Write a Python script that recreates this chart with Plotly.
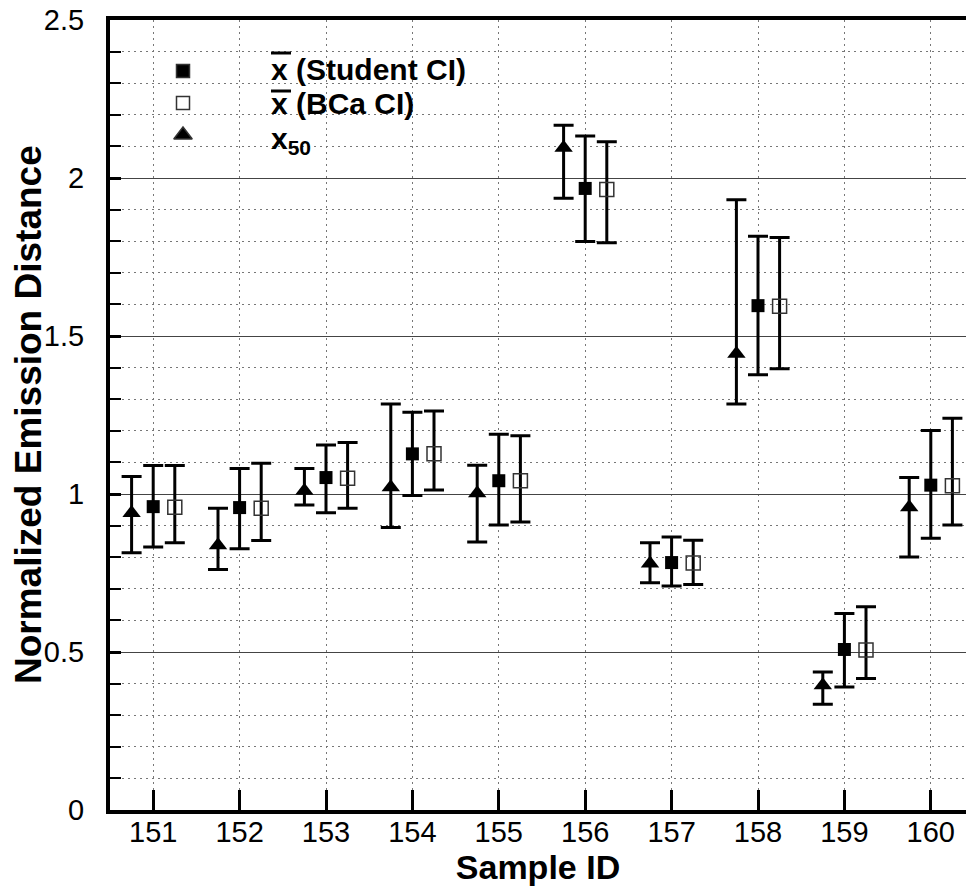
import plotly.graph_objects as go

# ---- data ----
sample_ids = [151, 152, 153, 154, 155, 156, 157, 158, 159, 160]

x50_val = [0.94, 0.838, 1.01, 1.021, 1.002, 2.096, 0.780, 1.444, 0.395, 0.958]
x50_hi = [1.055, 0.955, 1.081, 1.285, 1.091, 2.167, 0.846, 1.931, 0.437, 1.052]
x50_lo = [0.814, 0.761, 0.965, 0.894, 0.848, 1.936, 0.719, 1.285, 0.335, 0.801]

stu_val = [0.960, 0.957, 1.052, 1.127, 1.042, 1.967, 0.783, 1.596, 0.508, 1.028]
stu_hi = [1.090, 1.081, 1.155, 1.259, 1.189, 2.133, 0.864, 1.816, 0.622, 1.201]
stu_lo = [0.832, 0.827, 0.941, 0.995, 0.902, 1.799, 0.709, 1.377, 0.389, 0.860]

bca_val = [0.958, 0.955, 1.050, 1.127, 1.042, 1.964, 0.782, 1.594, 0.506, 1.026]
bca_hi = [1.090, 1.097, 1.163, 1.263, 1.184, 2.115, 0.854, 1.812, 0.643, 1.240]
bca_lo = [0.846, 0.853, 0.955, 1.013, 0.911, 1.795, 0.714, 1.396, 0.416, 0.902]

legend_labels = ["x (Student CI)", "x (BCa CI)", "x<sub>50</sub>"]
legend_bar = [True, True, False]

x_title = "Sample ID"
y_title = "Normalized Emission Distance"

W, H = 966, 889
L, R, T, B = 110, 0, 20, 79
PW, PH = W - L - R, H - T - B


def err(vals, hi, lo):
    return dict(type="data", symmetric=False,
                array=[h - v for h, v in zip(hi, vals)],
                arrayminus=[v - l for v, l in zip(vals, lo)],
                color="black", thickness=3, width=10)


fig = go.Figure()
fig.add_trace(go.Scatter(
    x=[s - 0.25 for s in sample_ids], y=x50_val, mode="markers",
    marker=dict(symbol="triangle-up", size=16, color="black"),
    error_y=err(x50_val, x50_hi, x50_lo), showlegend=False))
fig.add_trace(go.Scatter(
    x=sample_ids, y=stu_val, mode="markers",
    marker=dict(symbol="square", size=13, color="black"),
    error_y=err(stu_val, stu_hi, stu_lo), showlegend=False))
fig.add_trace(go.Scatter(
    x=[s + 0.25 for s in sample_ids], y=bca_val, mode="markers",
    marker=dict(symbol="square-open", size=14, color="#333333",
                line=dict(width=1.5, color="#333333")),
    error_y=err(bca_val, bca_hi, bca_lo), showlegend=False))

# ---- manual legend (overlay axes in plot-area fractions) ----
def fy(px):
    return 1 - (px - T) / PH


leg_x = (183 - L) / PW
leg_y = [fy(71), fy(103), fy(135)]
leg_sym = ["square", "square-open", "triangle-up"]
for yy, sym in zip(leg_y, leg_sym):
    fig.add_trace(go.Scatter(
        x=[leg_x], y=[yy], xaxis="x2", yaxis="y2", mode="markers",
        marker=dict(symbol=sym, size=13 if sym != "triangle-up" else 16,
                    color="black" if sym != "square-open" else "#333333",
                    line=dict(width=1.5, color="#333333")),
        showlegend=False, hoverinfo="skip"))
txt_x = (269 - L) / PW
text_y = [fy(69), fy(103), fy(140)]
bar_y = [fy(53), fy(91), None]
for yy, lab, bar, yb in zip(text_y, legend_labels, legend_bar, bar_y):
    fig.add_annotation(x=txt_x, y=yy, xref="paper", yref="paper",
                       text=lab, showarrow=False, xanchor="left", yanchor="middle",
                       font=dict(family="Liberation Sans, Arial, sans-serif",
                                 size=30, color="black", weight="bold"))
    if bar:
        fig.add_shape(type="line", xref="paper", yref="paper",
                      x0=txt_x + 2 / PW, x1=txt_x + 22 / PW, y0=yb, y1=yb,
                      line=dict(color="black", width=3))

tickfont = dict(family="Liberation Sans, Arial, sans-serif", size=29, color="black")
titlefont = dict(family="Liberation Sans, Arial, sans-serif", color="black", weight="bold")

# y-axis title placed as a rotated annotation
fig.add_annotation(x=(28 - L) / PW, y=0.5, xref="paper", yref="paper",
                   text=y_title, textangle=-90, showarrow=False,
                   xanchor="center", yanchor="middle",
                   font=dict(size=37, **titlefont))

fig.update_layout(
    width=W, height=H,
    margin=dict(l=L, r=R, t=T, b=B, pad=0, autoexpand=False),
    paper_bgcolor="white", plot_bgcolor="white",
    showlegend=False,
    xaxis=dict(
        range=[150.5, 150.5 + PW / 86.4],
        tickmode="array", tickvals=sample_ids, ticktext=[str(s) for s in sample_ids],
        ticks="inside", ticklen=20, tickwidth=3, tickcolor="black",
        showline=True, linewidth=4, linecolor="black", mirror=True,
        showgrid=True, gridcolor="#777777", gridwidth=1, griddash="2px,4px",
        zeroline=False, tickfont=tickfont, ticklabelstandoff=-7,
        title=dict(text=x_title, font=dict(size=34, **titlefont), standoff=0),
        automargin=False,
    ),
    yaxis=dict(
        range=[0, 2.5], tickmode="array", tickvals=[0, 0.5, 1, 1.5, 2, 2.5],
        ticktext=["0", "0.5", "1", "1.5", "2", "2.5"],
        ticks="inside", ticklen=11, tickwidth=3, tickcolor="black",
        showline=True, linewidth=4, linecolor="black",
        showgrid=True, gridcolor="#444444", gridwidth=1.2,
        zeroline=False, tickfont=tickfont, ticklabelstandoff=16,
        minor=dict(dtick=0.1, ticks="inside", ticklen=11, tickwidth=1.5,
                   tickcolor="black", showgrid=True, gridcolor="#777777",
                   gridwidth=1, griddash="2px,4px"),
        automargin=False,
    ),
    xaxis2=dict(overlaying="x", range=[0, 1], visible=False, fixedrange=True),
    yaxis2=dict(overlaying="y", range=[0, 1], visible=False, fixedrange=True),
)

fig.write_html("out.html", config={"displayModeBar": False},
               post_script="document.body.style.margin='0';document.body.style.overflow='hidden';")
